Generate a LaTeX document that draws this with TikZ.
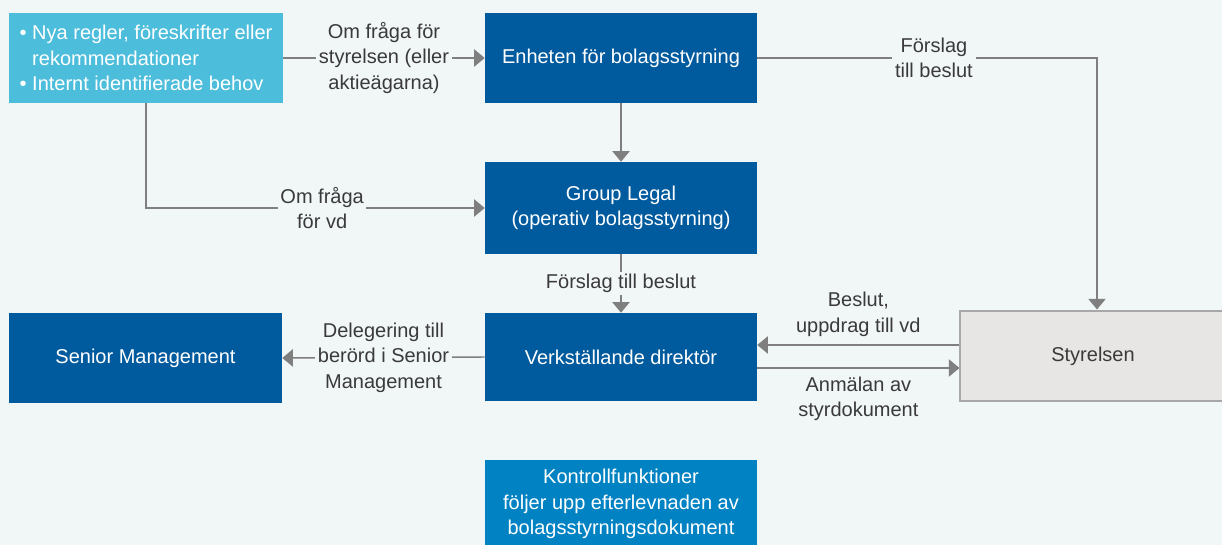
\documentclass[tikz,border=0pt]{standalone}
\usepackage{fontspec}
\setmainfont{Liberation Sans}
\usetikzlibrary{arrows.meta}
\definecolor{bg}{HTML}{F1F6F7}
\definecolor{dblue}{HTML}{005A9E}
\definecolor{lblue}{HTML}{4DBDDC}
\definecolor{mblue}{HTML}{0082C3}
\definecolor{sgray}{HTML}{E8E6E4}
\definecolor{sborder}{HTML}{A8A8A8}
\definecolor{arr}{HTML}{7F7F7F}
\definecolor{txt}{HTML}{3A3A3A}
\newcommand\fs{\fontsize{15}{19}\selectfont}
\begin{document}
\begin{tikzpicture}[x=0.75pt,y=-0.75pt,
  box/.style={rectangle, inner sep=0pt, text=white, align=center, font=\fs},
  lbl/.style={fill=bg, text=txt, align=center, inner sep=2pt, font=\fs},
  conn/.style={draw=arr, line width=1.1pt},
  tip/.style={-{Triangle[length=8pt,width=13pt]}}
]
\useasboundingbox[fill=bg] (0,0) rectangle (1222,545);

\node[box, fill=lblue, align=left, minimum width=205.5pt, minimum height=67.5pt] (tl) at (146,58)
  {\textbullet\ Nya regler, föreskrifter eller\\\hphantom{\textbullet\ }rekommendationer\\\textbullet\ Internt identifierade behov};
\node[box, fill=dblue, minimum width=204pt, minimum height=67.5pt] (enh) at (621,58) {Enheten för bolagsstyrning};
\node[box, fill=dblue, minimum width=204pt, minimum height=69pt] (gl) at (621,208) {Group Legal\\(operativ bolagsstyrning)};
\node[box, fill=dblue, minimum width=204pt, minimum height=66pt] (vd) at (621,357) {Verkställande direktör};
\node[box, fill=dblue, minimum width=204.75pt, minimum height=67.5pt] (sm) at (145.5,358) {Senior Management};
\node[box, fill=sgray, draw=sborder, line width=0.8pt, text=txt, minimum width=199.5pt, minimum height=67.5pt] (sty) at (1093,356) {Styrelsen};
\node[box, fill=mblue, minimum width=204pt, minimum height=66pt] (kon) at (621,504)
  {Kontrollfunktioner\\följer upp efterlevnaden av\\bolagsstyrningsdokument};

\draw[conn,tip] (tl.east) -- node[lbl] (l1) {Om fråga för\\styrelsen (eller\\aktieägarna)} (enh.west);
\draw[conn,tip] (enh.south) -- (gl.north);
\draw[conn,tip] (tl.south) |- node[lbl, pos=0.76] (l2) {Om fråga\\för vd} (gl.west);
\draw[conn,tip] (enh.east) -| node[lbl, pos=0.26] (l3) {Förslag\\till beslut} ([xshift=3pt,yshift=0.75pt]sty.north);
\draw[conn,tip] (gl.south) -- node[lbl] (l4) {Förslag till beslut} (vd.north);
\draw[conn,tip] ([yshift=8.25pt]sty.west) coordinate (s1) -- node[lbl, anchor=south, yshift=4pt] (l5) {Beslut,\\uppdrag till vd} (s1 -| vd.east);
\draw[conn,tip] ([yshift=-8.25pt]vd.east) coordinate (v1) -- node[lbl, anchor=north, yshift=-4pt] (l6) {Anmälan av\\styrdokument} (v1 -| sty.west);
\draw[conn,tip] (vd.west) -- node[lbl] (l7) {Delegering till\\berörd i Senior\\Management} (sm.east);
\end{tikzpicture}
\end{document}
